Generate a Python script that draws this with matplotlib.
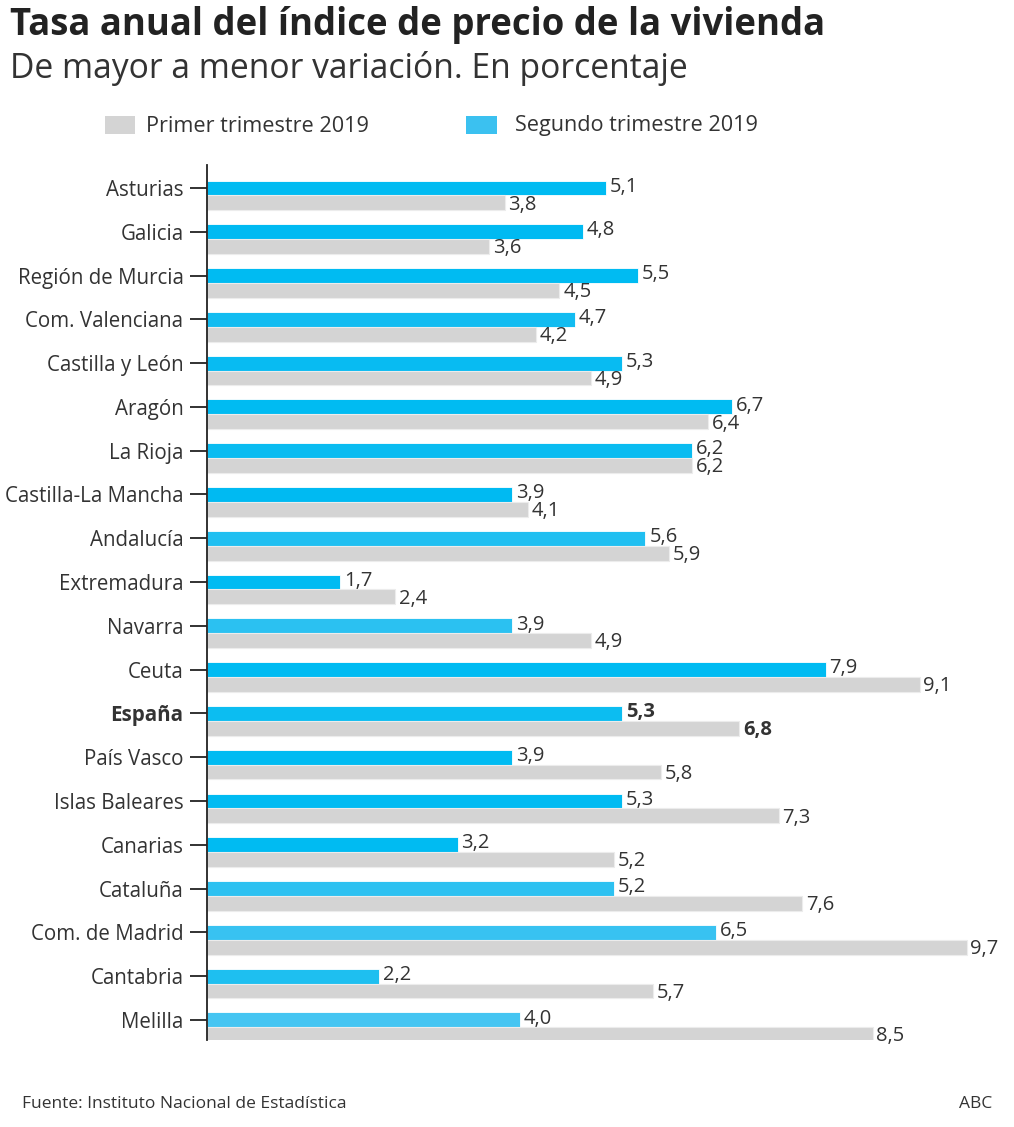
import numpy as np
import matplotlib
matplotlib.use("Agg")
import matplotlib.pyplot as plt
from matplotlib.patches import Rectangle

plt.rcParams["font.family"] = ["Open Sans", "DejaVu Sans"]

regiones = ["Asturias", "Galicia", "Región de Murcia", "Com. Valenciana", "Castilla y León",
            "Aragón", "La Rioja", "Castilla-La Mancha", "Andalucía", "Extremadura", "Navarra",
            "Ceuta", "España", "País Vasco", "Islas Baleares", "Canarias", "Cataluña",
            "Com. de Madrid", "Cantabria", "Melilla"]
segundo = [5.1, 4.8, 5.5, 4.7, 5.3, 6.7, 6.2, 3.9, 5.6, 1.7, 3.9, 7.9, 5.3, 3.9, 5.3, 3.2, 5.2, 6.5, 2.2, 4.0]
primero = [3.8, 3.6, 4.5, 4.2, 4.9, 6.4, 6.2, 4.1, 5.9, 2.4, 4.9, 9.1, 6.8, 5.8, 7.3, 5.2, 7.6, 9.7, 5.7, 8.5]

# tonos de azul ligeramente distintos, como en el original
AZULES = ["#00bbf2", "#00baf2", "#00bbf2", "#12bcf1", "#08bbf2", "#00bbf2", "#0abcf1", "#00baf2",
          "#20bff1", "#00bbf2", "#2bc1f1", "#00bbf2", "#0cbdf1", "#00bbf2", "#00bbf2", "#00bbf2",
          "#2dc1f1", "#38c2f1", "#1ebff0", "#45c5f2"]
GRIS = "#d4d4d4"
INK = "#333333"

fig = plt.figure(figsize=(10.14, 11.27), dpi=100)
ax = fig.add_axes([207/1014, 1-1040/1127, 793/1014, (1040-165)/1127])

y = np.arange(len(regiones))
h = 0.34
ax.barh(y, segundo, height=h, color=AZULES, edgecolor="white", linewidth=0.6)
ax.barh(y + h, primero, height=h, color=GRIS, edgecolor="#ececec", linewidth=0.8)

for i, (a, b) in enumerate(zip(segundo, primero)):
    w = "bold" if regiones[i] == "España" else "normal"
    ax.text(a + 0.05, i - 0.03, f"{a:.1f}".replace(".", ","), va="center", ha="left",
            fontsize=14.5, color=INK, weight=w)
    ax.text(b + 0.05, i + h + 0.04, f"{b:.1f}".replace(".", ","), va="center", ha="left",
            fontsize=14.5, color=INK, weight=w)

ax.set_xlim(0, 793/78.3)
ax.set_ylim(len(regiones) - 1 + 0.46, -0.525)
ax.set_yticks(y)
ax.set_yticklabels(regiones, fontsize=14.8, color=INK)
for lab in ax.get_yticklabels():
    if lab.get_text() == "España":
        lab.set_fontweight("bold")
ax.tick_params(axis="y", length=12, width=1.3, color="#222222", pad=5)
ax.set_xticks([])
for s in ["top", "right", "bottom"]:
    ax.spines[s].set_visible(False)
ax.spines["left"].set_color("#222222")
ax.spines["left"].set_linewidth(1.3)

fig.text(10/1014, 1-25/1127, "Tasa anual del índice de precio de la vivienda", fontsize=26.3,
         weight="bold", color="#222222", va="center", ha="left")
fig.text(10/1014, 1-68/1127, "De mayor a menor variación. En porcentaje", fontsize=24.2,
         color="#333333", va="center", ha="left")

# leyenda
fig.add_artist(Rectangle((105/1014, 1-134/1127), 30/1014, 18/1127, transform=fig.transFigure,
                         facecolor=GRIS, edgecolor="none"))
fig.text(146/1014, 1-126/1127, "Primer trimestre 2019", fontsize=15.6, color=INK, va="center")
fig.add_artist(Rectangle((466/1014, 1-134/1127), 31/1014, 18/1127, transform=fig.transFigure,
                         facecolor="#3bc1f0", edgecolor="none"))
fig.text(515/1014, 1-126/1127, "Segundo trimestre 2019", fontsize=15.6, color=INK, va="center")

fig.text(22/1014, 1-1104/1127, "Fuente: Instituto Nacional de Estadística", fontsize=12.5,
         color=INK, va="center", ha="left")
fig.text(992/1014, 1-1104/1127, "ABC", fontsize=12.5, color=INK, va="center", ha="right")

fig.savefig("out.png", dpi=100, facecolor="white")
